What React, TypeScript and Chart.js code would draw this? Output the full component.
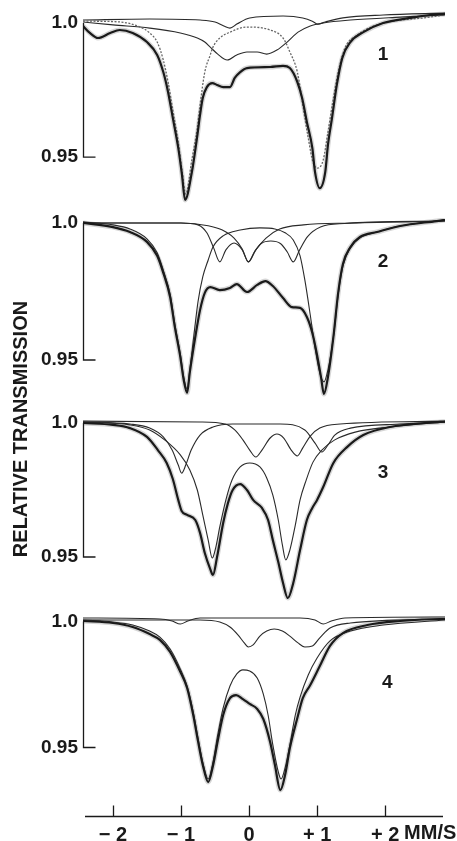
import { useEffect, useRef } from "react";
import { Chart, registerables } from "chart.js";

Chart.register(...registerables);

// ---------- axis ticks ----------
const X_TICKS = [-2, -1, 0, 1, 2];
const X_TICK_LABELS = ["\u2212 2", "\u2212 1", "0", "+ 1", "+ 2"];
const Y_TICKS = [1.0, 0.95];
const Y_TICK_LABELS = ["1.0", "0.95"];
const X_UNIT = "MM/S";
const Y_TITLE = "RELATIVE TRANSMISSION";
const PANEL_LABELS = ["1", "2", "3", "4"];
const PANEL_LABEL_X = [1.97, 1.97, 1.97, 2.03];
const PANEL_LABEL_Y = [0.9881, 0.9858, 0.9813, 0.9756];

// ---------- panel 1 ----------
const P1_MEAS_X = [-2.44, -2.34, -2.22, -2.04, -1.9, -1.71, -1.5, -1.35, -1.26, -1.19, -1.12, -1.04, -0.985, -0.94, -0.84, -0.765, -0.72, -0.68, -0.62, -0.54, -0.47, -0.38, -0.28, -0.21, -0.13, -0.03, 0.31, 0.5, 0.6, 0.71, 0.78, 0.85, 0.93, 0.97, 1.04, 1.12, 1.16, 1.22, 1.29, 1.37, 1.49, 1.68, 1.97, 2.37, 2.66, 2.88];
const P1_MEAS_Y = [0.9989, 0.9963, 0.9944, 0.9963, 0.9974, 0.9963, 0.9929, 0.9881, 0.9817, 0.9743, 0.9646, 0.9534, 0.9433, 0.934, 0.9444, 0.9571, 0.9657, 0.972, 0.9761, 0.9776, 0.9769, 0.9761, 0.9761, 0.9795, 0.9817, 0.9832, 0.9836, 0.984, 0.9832, 0.978, 0.972, 0.9631, 0.9534, 0.9444, 0.9384, 0.9444, 0.9545, 0.9646, 0.9769, 0.9869, 0.9929, 0.9966, 1.0, 1.0019, 1.003, 1.0034];
const P1_A_X = [-2.44, -1.9, -1.6, -1.46, -1.35, -1.26, -1.19, -1.12, -1.04, -0.985, -0.93, -0.84, -0.76, -0.72, -0.65, -0.57, -0.53, -0.43, -0.28, -0.03, 0.31, 0.5, 0.6, 0.71, 0.79, 0.87, 0.94, 1.01, 1.09, 1.16, 1.24, 1.31, 1.41, 1.59, 1.88, 2.66, 2.88];
const P1_A_Y = [1.0007, 1.0004, 0.9985, 0.9963, 0.9929, 0.9862, 0.978, 0.9675, 0.9556, 0.9451, 0.9362, 0.949, 0.961, 0.9694, 0.9817, 0.9881, 0.991, 0.9944, 0.9966, 0.9985, 0.9974, 0.9944, 0.9892, 0.9817, 0.9694, 0.9571, 0.9481, 0.9459, 0.9489, 0.9593, 0.972, 0.9817, 0.9907, 0.9955, 0.9993, 1.0022, 1.003];
const P1_B_X = [-2.44, -2.0, -1.46, -1.01, -0.76, -0.65, -0.57, -0.46, -0.32, -0.18, -0.03, 0.12, 0.26, 0.41, 0.56, 0.72, 0.9, 1.09, 1.49, 2.22, 2.88];
const P1_B_Y = [1.0004, 0.9993, 0.9981, 0.9963, 0.9944, 0.9929, 0.991, 0.9884, 0.9862, 0.9881, 0.9892, 0.9892, 0.9884, 0.9899, 0.9929, 0.9966, 0.9989, 1.0, 1.0011, 1.0022, 1.003];
const P1_C_X = [-2.44, -1.46, -0.72, -0.5, -0.37, -0.28, -0.18, 0.01, 0.5, 0.79, 0.93, 1.01, 1.12, 1.38, 1.97, 2.88];
const P1_C_Y = [1.0011, 1.0015, 1.0011, 1.0004, 0.9989, 0.9981, 0.9996, 1.0019, 1.0026, 1.0019, 1.0007, 0.9996, 1.0004, 1.0019, 1.003, 1.0037];

// ---------- panel 2 ----------
const P2_MEAS_X = [-2.44, -2.0, -1.75, -1.5, -1.35, -1.26, -1.16, -1.09, -1.01, -0.96, -0.91, -0.87, -0.79, -0.72, -0.65, -0.57, -0.43, -0.28, -0.18, -0.03, 0.12, 0.24, 0.35, 0.5, 0.63, 0.75, 0.85, 0.93, 1.0, 1.06, 1.1, 1.16, 1.24, 1.31, 1.38, 1.49, 1.63, 1.88, 2.22, 2.76, 2.88];
const P2_MEAS_Y = [1.0, 0.9985, 0.9967, 0.9931, 0.988, 0.9818, 0.973, 0.962, 0.9511, 0.9427, 0.938, 0.9456, 0.9584, 0.9682, 0.9745, 0.9766, 0.9755, 0.9763, 0.9777, 0.9748, 0.9774, 0.9788, 0.977, 0.9726, 0.9693, 0.969, 0.9657, 0.9599, 0.9518, 0.9434, 0.9376, 0.9438, 0.9584, 0.9745, 0.985, 0.9912, 0.9949, 0.9967, 0.9989, 1.0007, 1.0011];
const P2_A_X = [-2.44, -2.0, -1.75, -1.5, -1.35, -1.26, -1.16, -1.09, -1.01, -0.96, -0.91, -0.87, -0.81, -0.75, -0.68, -0.6, -0.53, -0.38, -0.13, 0.16, 0.38, 0.53, 0.65, 0.75, 0.82, 0.9, 0.97, 1.04, 1.1, 1.16, 1.24, 1.31, 1.38, 1.49, 1.63, 1.88, 2.22, 2.88];
const P2_A_Y = [1.0004, 0.9993, 0.9978, 0.9942, 0.9891, 0.9828, 0.9741, 0.9631, 0.9522, 0.9438, 0.9394, 0.9464, 0.9591, 0.9712, 0.9803, 0.9865, 0.9912, 0.9953, 0.9974, 0.9982, 0.9978, 0.9964, 0.9938, 0.988, 0.9792, 0.9664, 0.9544, 0.9453, 0.942, 0.9464, 0.9584, 0.9737, 0.9843, 0.9909, 0.9945, 0.9967, 0.9989, 1.0011];
const P2_B_X = [-2.44, -1.0, -0.75, -0.62, -0.52, -0.43, -0.34, -0.22, -0.1, -0.01, 0.1, 0.25, 0.45, 0.8, 1.5, 2.88];
const P2_B_Y = [1.0, 1.0, 0.9993, 0.9964, 0.9909, 0.9858, 0.9902, 0.9927, 0.9902, 0.9858, 0.9902, 0.9945, 0.9978, 0.9993, 1.0, 1.0007];
const P2_C_X = [-2.44, -1.0, -0.6, -0.4, -0.22, -0.1, -0.01, 0.08, 0.18, 0.32, 0.46, 0.56, 0.65, 0.74, 0.86, 1.05, 1.4, 2.88];
const P2_C_Y = [1.0, 1.0, 0.999, 0.9975, 0.9945, 0.9905, 0.9858, 0.9895, 0.9925, 0.9934, 0.9925, 0.9895, 0.9858, 0.99, 0.995, 0.9985, 0.9998, 1.0007];

// ---------- panel 3 ----------
const P3_MEAS_X = [-2.44, -2.0, -1.75, -1.5, -1.34, -1.21, -1.12, -1.04, -0.99, -0.91, -0.79, -0.72, -0.65, -0.57, -0.53, -0.47, -0.38, -0.31, -0.24, -0.13, -0.03, 0.06, 0.19, 0.28, 0.35, 0.43, 0.5, 0.57, 0.65, 0.75, 0.85, 0.93, 1.0, 1.09, 1.24, 1.44, 1.68, 2.07, 2.81, 2.88];
const P3_MEAS_Y = [1.0, 0.9993, 0.9981, 0.9948, 0.9899, 0.9851, 0.9791, 0.9713, 0.9672, 0.9657, 0.9638, 0.959, 0.9515, 0.9455, 0.9433, 0.95, 0.9627, 0.9701, 0.975, 0.9772, 0.975, 0.9713, 0.9683, 0.9638, 0.9563, 0.9481, 0.9403, 0.9347, 0.9403, 0.9526, 0.9638, 0.9683, 0.9713, 0.9761, 0.9851, 0.991, 0.9955, 0.9985, 1.0004, 1.0005];
const P3_A_X = [-2.44, -1.75, -1.46, -1.24, -1.01, -0.87, -0.76, -0.68, -0.6, -0.54, -0.49, -0.43, -0.34, -0.25, -0.13, 0.01, 0.16, 0.26, 0.35, 0.43, 0.49, 0.54, 0.6, 0.68, 0.75, 0.84, 0.94, 1.07, 1.26, 1.56, 2.07, 2.88];
const P3_A_Y = [1.0004, 0.9993, 0.9974, 0.9937, 0.9881, 0.9825, 0.975, 0.9657, 0.9563, 0.9496, 0.9534, 0.9612, 0.9713, 0.9787, 0.9836, 0.9851, 0.9836, 0.9795, 0.9731, 0.9638, 0.9545, 0.9489, 0.9526, 0.9619, 0.9713, 0.9787, 0.9854, 0.9899, 0.9937, 0.9966, 0.9985, 1.0004];
const P3_B_X = [-2.44, -1.75, -1.46, -1.26, -1.13, -1.04, -0.99, -0.93, -0.85, -0.72, -0.53, -0.24, 0.46, 0.82, 0.97, 1.07, 1.16, 1.26, 1.49, 2.22, 2.88];
const P3_B_Y = [1.0004, 0.9996, 0.9981, 0.9948, 0.9899, 0.9843, 0.9813, 0.9843, 0.9899, 0.9955, 0.9985, 0.9996, 0.9996, 0.9974, 0.9925, 0.9892, 0.9918, 0.9955, 0.9981, 0.9996, 1.0004];
const P3_C_X = [-2.44, -0.72, -0.35, -0.21, -0.09, 0.01, 0.1, 0.19, 0.31, 0.41, 0.51, 0.62, 0.71, 0.79, 0.9, 1.04, 1.34, 2.88];
const P3_C_Y = [1.0007, 1.0004, 0.9996, 0.9974, 0.9937, 0.9899, 0.9873, 0.9899, 0.9944, 0.9959, 0.9944, 0.9899, 0.9877, 0.9907, 0.9951, 0.9981, 0.9996, 1.0007];

// ---------- panel 4 ----------
const P4_MEAS_X = [-2.44, -2.0, -1.71, -1.46, -1.31, -1.16, -1.01, -0.91, -0.82, -0.75, -0.68, -0.6, -0.53, -0.46, -0.38, -0.28, -0.19, -0.09, 0.01, 0.12, 0.21, 0.31, 0.38, 0.46, 0.53, 0.6, 0.71, 0.79, 0.9, 1.04, 1.19, 1.38, 1.74, 2.22, 2.81, 2.88];
const P4_MEAS_Y = [1.0002, 0.9994, 0.9978, 0.995, 0.9927, 0.9879, 0.98, 0.9736, 0.9629, 0.9526, 0.9431, 0.9363, 0.9427, 0.9526, 0.9629, 0.9696, 0.9708, 0.9692, 0.9673, 0.9653, 0.9613, 0.9522, 0.9431, 0.9331, 0.9391, 0.9498, 0.9617, 0.9696, 0.9748, 0.9823, 0.9903, 0.9954, 0.9986, 1.0002, 1.001, 1.001];
const P4_A_X = [-2.44, -2.0, -1.71, -1.46, -1.31, -1.16, -1.01, -0.91, -0.82, -0.75, -0.68, -0.6, -0.53, -0.46, -0.38, -0.28, -0.18, -0.09, 0.01, 0.12, 0.21, 0.28, 0.35, 0.43, 0.47, 0.53, 0.6, 0.68, 0.75, 0.87, 1.0, 1.19, 1.49, 1.97, 2.88];
const P4_A_Y = [1.0006, 0.9998, 0.9986, 0.9962, 0.9938, 0.9891, 0.9812, 0.9744, 0.9641, 0.9538, 0.9442, 0.9375, 0.9442, 0.955, 0.9657, 0.9744, 0.9792, 0.9808, 0.9804, 0.9776, 0.9712, 0.9629, 0.951, 0.9403, 0.9375, 0.9419, 0.951, 0.9629, 0.97, 0.9788, 0.9855, 0.9923, 0.9962, 0.9986, 1.0006];
const P4_B_X = [-2.44, -0.72, -0.43, -0.28, -0.16, -0.07, -0.01, 0.06, 0.16, 0.26, 0.37, 0.49, 0.6, 0.72, 0.82, 0.93, 1.04, 1.19, 1.49, 2.88];
const P4_B_Y = [1.0006, 1.0006, 0.9998, 0.9978, 0.9946, 0.9915, 0.9899, 0.9907, 0.9942, 0.9962, 0.997, 0.9962, 0.9942, 0.9915, 0.9899, 0.9903, 0.9935, 0.9974, 0.9994, 1.001];
const P4_C_X = [-2.44, -1.31, -1.13, -1.01, -0.9, -0.72, 0.75, 0.97, 1.09, 1.21, 1.41, 2.88];
const P4_C_Y = [1.0014, 1.001, 1.0002, 0.999, 1.0002, 1.0014, 1.0014, 1.0006, 0.999, 1.0002, 1.0014, 1.0018];

// ---------- scales ----------
const X_MIN = -2.44;
const X_MAX = 2.88;
const PANEL_IDS = ["y1", "y2", "y3", "y4"];
const PANEL_MIN = [0.9295, 0.93175, 0.93209, 0.92282];
const PANEL_MAX = [1.0056, 1.004, 1.00485, 1.00655];
const PANEL_WEIGHT = [204, 198, 195, 211];

const FONT = "'Liberation Sans', Arial, Helvetica, sans-serif";
const INK = "#1a1a1a";

const pts = (xs: number[], ys: number[]) => xs.map((x, i) => ({ x, y: ys[i] }));

const measured = (xs: number[], ys: number[], axis: string) => ({
  data: pts(xs, ys),
  yAxisID: axis,
  borderColor: INK,
  borderWidth: 2.2,
  pointRadius: 0,
  cubicInterpolationMode: "monotone" as const,
  order: 0,
});
const halo = (xs: number[], ys: number[], axis: string) => ({
  data: pts(xs, ys),
  yAxisID: axis,
  borderColor: "rgba(0,0,0,0.16)",
  borderWidth: 5,
  pointRadius: 0,
  cubicInterpolationMode: "monotone" as const,
  order: 3,
});
const comp = (xs: number[], ys: number[], axis: string, dotted = false) => ({
  data: pts(xs, ys),
  yAxisID: axis,
  borderColor: dotted ? "#666" : "#2a2a2a",
  borderWidth: dotted ? 1.3 : 1.1,
  borderDash: dotted ? [2, 1.5] : [],
  pointRadius: 0,
  cubicInterpolationMode: "monotone" as const,
  order: 1,
});

const decoPlugin = {
  id: "deco",
  afterDraw(chart: any) {
    const ctx = chart.ctx;
    const xs = chart.scales.x;
    const area = chart.chartArea;
    ctx.save();
    ctx.strokeStyle = INK;
    ctx.fillStyle = INK;
    ctx.lineWidth = 1.3;
    PANEL_IDS.forEach((id, i) => {
      const ys = chart.scales[id];
      const yTop = ys.getPixelForValue(Y_TICKS[0]);
      const yBot = ys.getPixelForValue(Y_TICKS[1]);
      const x0 = area.left + 0.5;
      ctx.beginPath();
      ctx.moveTo(x0, yTop);
      ctx.lineTo(x0, yBot);
      ctx.lineTo(x0 + 12, yBot);
      ctx.stroke();
      ctx.font = `bold 19px ${FONT}`;
      ctx.textAlign = "center";
      ctx.textBaseline = "middle";
      ctx.fillText(PANEL_LABELS[i], xs.getPixelForValue(PANEL_LABEL_X[i]), ys.getPixelForValue(PANEL_LABEL_Y[i]));
    });
    const yb = area.bottom + 0.5;
    ctx.beginPath();
    ctx.moveTo(area.left + 2, yb);
    ctx.lineTo(area.right - 2, yb);
    X_TICKS.forEach((v) => {
      const px = Math.round(xs.getPixelForValue(v)) + 0.5;
      ctx.moveTo(px, yb);
      ctx.lineTo(px, yb - 11);
    });
    ctx.stroke();
    ctx.font = `bold 20px ${FONT}`;
    ctx.textAlign = "left";
    ctx.textBaseline = "top";
    ctx.fillText(X_UNIT, xs.getPixelForValue(X_TICKS[4]) + 19, area.bottom + 7);
    ctx.translate(21, area.top + 421);
    ctx.rotate(-Math.PI / 2);
    ctx.textAlign = "center";
    ctx.textBaseline = "middle";
    ctx.font = `bold 20px ${FONT}`;
    ctx.fillText(Y_TITLE, 0, 0);
    ctx.restore();
  },
};

export default function App() {
  const ref = useRef<HTMLCanvasElement | null>(null);
  useEffect(() => {
    if (!ref.current) return;
    const yScales: any = {};
    PANEL_IDS.forEach((id, i) => {
      yScales[id] = {
        type: "linear",
        position: "left",
        stack: "panels",
        stackWeight: PANEL_WEIGHT[i],
        weight: 4 - i,
        min: PANEL_MIN[i],
        max: PANEL_MAX[i],
        grid: { display: false, drawTicks: false },
        border: { display: false },
        afterBuildTicks: (s: any) => {
          s.ticks = Y_TICKS.map((v) => ({ value: v }));
        },
        afterFit: (s: any) => {
          s.width = 83;
          s.paddingTop = 0;
          s.paddingBottom = 0;
        },
        ticks: {
          padding: 5,
          color: INK,
          font: { family: FONT, size: 19, weight: "bold" },
          callback: (v: number) => {
            const k = Y_TICKS.findIndex((t) => Math.abs(t - v) < 1e-9);
            return k >= 0 ? Y_TICK_LABELS[k] : "";
          },
        },
      };
    });
    const datasets: any[] = [
      halo(P1_MEAS_X, P1_MEAS_Y, "y1"),
      measured(P1_MEAS_X, P1_MEAS_Y, "y1"),
      comp(P1_A_X, P1_A_Y, "y1", true),
      comp(P1_B_X, P1_B_Y, "y1"),
      comp(P1_C_X, P1_C_Y, "y1"),
      halo(P2_MEAS_X, P2_MEAS_Y, "y2"),
      measured(P2_MEAS_X, P2_MEAS_Y, "y2"),
      comp(P2_A_X, P2_A_Y, "y2"),
      comp(P2_B_X, P2_B_Y, "y2"),
      comp(P2_C_X, P2_C_Y, "y2"),
      halo(P3_MEAS_X, P3_MEAS_Y, "y3"),
      measured(P3_MEAS_X, P3_MEAS_Y, "y3"),
      comp(P3_A_X, P3_A_Y, "y3"),
      comp(P3_B_X, P3_B_Y, "y3"),
      comp(P3_C_X, P3_C_Y, "y3"),
      halo(P4_MEAS_X, P4_MEAS_Y, "y4"),
      measured(P4_MEAS_X, P4_MEAS_Y, "y4"),
      comp(P4_A_X, P4_A_Y, "y4"),
      comp(P4_B_X, P4_B_Y, "y4"),
      comp(P4_C_X, P4_C_Y, "y4"),
    ];
    const chart = new Chart(ref.current, {
      type: "line",
      data: { datasets },
      options: {
        responsive: false,
        animation: false,
        layout: { padding: { top: 8, right: 12, bottom: 0, left: 0 } },
        plugins: { legend: { display: false }, tooltip: { enabled: false } },
        scales: {
          x: {
            type: "linear",
            position: "bottom",
            min: X_MIN,
            max: X_MAX,
            grid: { display: false, drawTicks: false },
            border: { display: false },
            afterBuildTicks: (s: any) => {
              s.ticks = X_TICKS.map((v) => ({ value: v }));
            },
            afterFit: (s: any) => {
              s.height = 25;
              s.paddingLeft = 0;
              s.paddingRight = 0;
            },
            ticks: {
              padding: 7,
              color: INK,
              maxRotation: 0,
              font: { family: FONT, size: 20, weight: "bold" },
              callback: (v: number) => {
                const k = X_TICKS.findIndex((t) => Math.abs(t - v) < 1e-9);
                return k >= 0 ? X_TICK_LABELS[k] : "";
              },
            },
          },
          ...yScales,
        },
      } as any,
      plugins: [decoPlugin],
    });
    return () => chart.destroy();
  }, []);
  return (
    <div style={{ position: "absolute", left: 0, top: 0, width: 457, height: 841, background: "#fff" }}>
      <canvas ref={ref} width={457} height={841} />
    </div>
  );
}
